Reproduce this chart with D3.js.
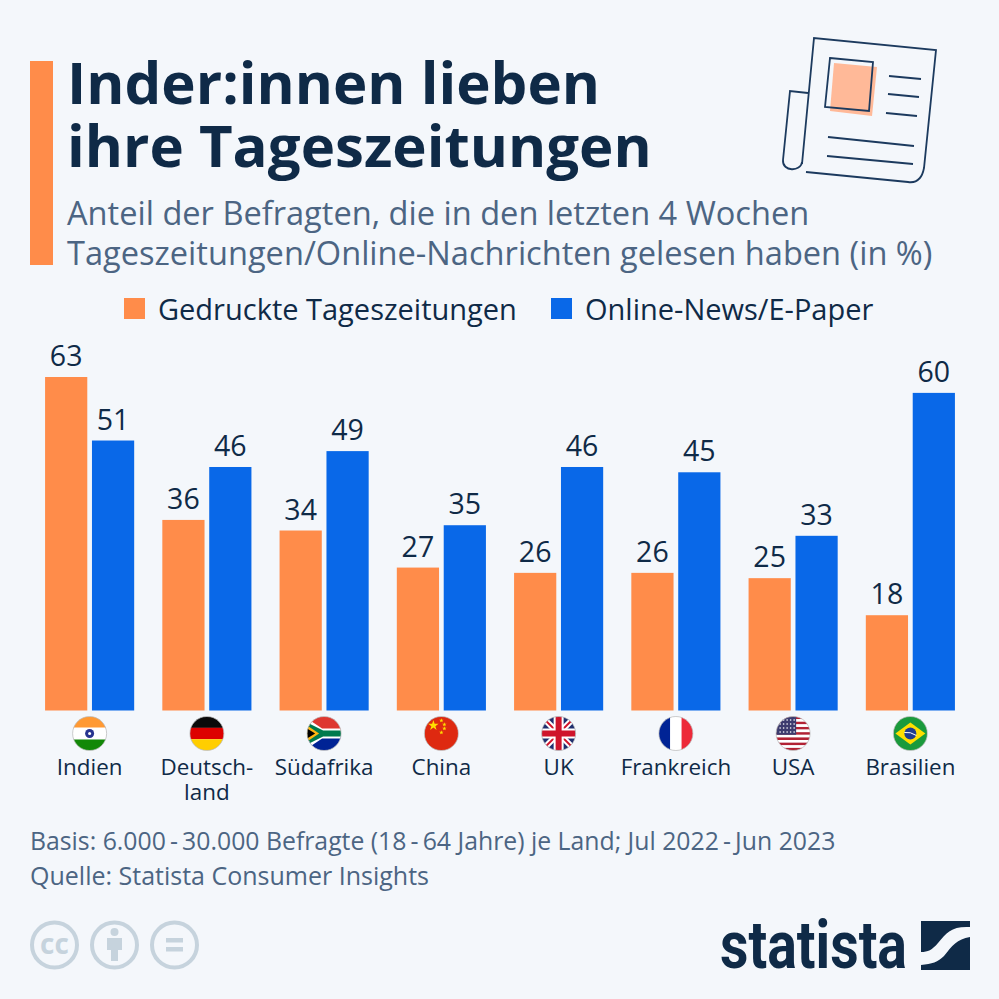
<!DOCTYPE html>
<html>
<head>
<meta charset="utf-8">
<script src="https://cdn.jsdelivr.net/npm/d3@7"></script>
<style>
  html, body { margin: 0; padding: 0; background: #f4f7fb; }
  svg { display: block; }
  text { font-family: "Open Sans", sans-serif; }
</style>
</head>
<body>
<svg id="chart" width="999" height="999"></svg>
<script>
const countries = ["Indien", "Deutschland", "Südafrika", "China", "UK", "Frankreich", "USA", "Brasilien"];
const countryLabels = [["Indien"], ["Deutsch-", "land"], ["Südafrika"], ["China"], ["UK"], ["Frankreich"], ["USA"], ["Brasilien"]];
const printValues = [63, 36, 34, 27, 26, 26, 25, 18];
const onlineValues = [51, 46, 49, 35, 46, 45, 33, 60];
const seriesNames = ["Gedruckte Tageszeitungen", "Online-News/E-Paper"];
const titleLines = ["Inder:innen lieben", "ihre Tageszeitungen"];
const subtitleLines = [
  "Anteil der Befragten, die in den letzten 4 Wochen",
  "Tageszeitungen/Online-Nachrichten gelesen haben (in %)"
];
const footerLines = [
  "Basis: 6.000\u2009-\u200930.000 Befragte (18\u2009-\u200964 Jahre) je Land; Jul 2022\u2009-\u2009Jun 2023",
  "Quelle: Statista Consumer Insights"
];

const navy = "#0f2a47";
const slate = "#4c6583";
const orange = "#ff8c4a";
const blue = "#0968e8";

const svg = d3.select("#chart");

svg.append("rect").attr("width", 999).attr("height", 999).attr("fill", "#f4f7fb");

// header
svg.append("rect").attr("x", 30).attr("y", 61).attr("width", 23).attr("height", 204).attr("fill", orange);

svg.selectAll(".title")
  .data(titleLines)
  .join("text")
  .attr("class", "title")
  .attr("x", 67)
  .attr("y", (d, i) => 104 + i * 63)
  .attr("font-size", "58.2px")
  .attr("font-weight", 700)
  .attr("fill", navy)
  .text((d) => d);

svg.selectAll(".subtitle")
  .data(subtitleLines)
  .join("text")
  .attr("class", "subtitle")
  .attr("x", 67)
  .attr("y", (d, i) => 225 + i * 40)
  .attr("font-size", "32.6px")
  .attr("fill", slate)
  .text((d) => d);

// newspaper icon
const icon = svg.append("g").attr("fill", "none").attr("stroke", "#1c3a5e").attr("stroke-width", 1.8);
icon.append("path")
  .attr("d", "M834,63 L877,67 L872,116 L830,111 Z")
  .attr("fill", "#ffb998")
  .attr("stroke", "none");
icon.append("path").attr("d", "M830,58 L873,62 L869,111 L825,107 Z");
icon.append("path").attr("d", "M802,164 L814,38 L936,50 L924,168 Q921,184 908,182 L806,172");
icon.append("path").attr("d", "M808,93 L790,91 L783,160 C782,172 801,172 802,162");
[[889, 76, 921, 79], [888, 94, 919, 97], [886, 113, 917, 116], [828, 137, 914, 146], [827, 156, 913, 164]].forEach((l) => {
  icon.append("line").attr("x1", l[0]).attr("y1", l[1]).attr("x2", l[2]).attr("y2", l[3]);
});

// legend
const legendX = [124, 551];
seriesNames.forEach((name, i) => {
  svg.append("rect")
    .attr("x", legendX[i])
    .attr("y", 298)
    .attr("width", 21)
    .attr("height", 21)
    .attr("fill", i === 0 ? orange : blue);
  svg.append("text")
    .attr("x", legendX[i] + 34)
    .attr("y", 320)
    .attr("font-size", "29px")
    .attr("fill", navy)
    .text(name);
});

// scales
const x0 = d3.scaleBand().domain(countries).range([31, 969]).paddingInner(0.24).paddingOuter(0.12);
const x1 = d3.scaleBand().domain(seriesNames).range([0, x0.bandwidth()]).paddingInner(0.1);
const y = d3.scaleLinear().domain([0, 63]).range([710.5, 377]);

const rows = countries.map((c, i) => ({ country: c, values: [printValues[i], onlineValues[i]], label: countryLabels[i] }));

const groups = svg.selectAll(".group")
  .data(rows)
  .join("g")
  .attr("class", "group")
  .attr("transform", (d) => `translate(${x0(d.country)},0)`);

const cells = groups.selectAll(".cell")
  .data((d) => d.values.map((v, i) => ({ value: v, series: seriesNames[i] })))
  .join("g")
  .attr("class", "cell");

cells.append("rect")
  .attr("x", (d) => x1(d.series))
  .attr("y", (d) => y(d.value))
  .attr("width", x1.bandwidth())
  .attr("height", (d) => y(0) - y(d.value))
  .attr("fill", (d) => (d.series === seriesNames[0] ? orange : blue));

cells.append("text")
  .attr("x", (d) => x1(d.series) + x1.bandwidth() / 2)
  .attr("y", (d) => y(d.value) - 11)
  .attr("text-anchor", "middle")
  .attr("font-size", "28.5px")
  .attr("fill", navy)
  .text((d) => d.value);

// country labels
groups.each(function (d) {
  d3.select(this).selectAll(".country")
    .data(d.label)
    .join("text")
    .attr("class", "country")
    .attr("x", x0.bandwidth() / 2)
    .attr("y", (t, i) => 775 + i * 25)
    .attr("text-anchor", "middle")
    .attr("font-size", "22.4px")
    .attr("fill", navy)
    .text((t) => t);
});

// flags
const defs = svg.append("defs");
defs.append("clipPath").attr("id", "flagClip").append("circle").attr("r", 17);

const flagDrawers = {
  Indien(g) {
    band(g, -17, 12, "#ff9933");
    band(g, -6, 12, "#ffffff");
    band(g, 6, 11, "#128807");
    g.append("circle").attr("r", 4.5).attr("fill", "#27348f");
    g.append("circle").attr("r", 1.5).attr("fill", "#ffffff");
  },
  Deutschland(g) {
    band(g, -17, 11.4, "#0a0a0a");
    band(g, -5.7, 11.4, "#dd0000");
    band(g, 5.7, 11.4, "#ffce00");
  },
  "Südafrika"(g) {
    band(g, -17, 17, "#de3831");
    band(g, 0, 17, "#002395");
    g.append("path").attr("d", "M-17,-15 L-2,-5 L17,-5 L17,5 L-2,5 L-17,15 Z").attr("fill", "#ffffff");
    g.append("path").attr("d", "M-17,-11 L-1,-3 L17,-3 L17,3 L-1,3 L-17,11 Z").attr("fill", "#007a4d");
    g.append("path").attr("d", "M-17,-8 L-5,0 L-17,8 Z").attr("fill", "#ffb612");
    g.append("path").attr("d", "M-17,-5 L-9,0 L-17,5 Z").attr("fill", "#000000");
  },
  China(g) {
    band(g, -17, 34, "#de2910");
    const star = d3.symbol().type(d3.symbolStar);
    g.append("path").attr("d", star.size(34)()).attr("transform", "translate(-8,-8)").attr("fill", "#ffde00");
    [[0, -13], [3, -9], [3, -5], [0, -1]].forEach((p) => {
      g.append("path").attr("d", star.size(6)()).attr("transform", `translate(${p[0]},${p[1]})`).attr("fill", "#ffde00");
    });
  },
  UK(g) {
    band(g, -17, 34, "#1f2f6e");
    g.append("path").attr("d", "M-17,-17 L17,17 M17,-17 L-17,17").attr("stroke", "#ffffff").attr("stroke-width", 6);
    g.append("path").attr("d", "M-17,-17 L17,17 M17,-17 L-17,17").attr("stroke", "#cf142b").attr("stroke-width", 2);
    g.append("path").attr("d", "M0,-17 V17 M-17,0 H17").attr("stroke", "#ffffff").attr("stroke-width", 10);
    g.append("path").attr("d", "M0,-17 V17 M-17,0 H17").attr("stroke", "#cf142b").attr("stroke-width", 6);
  },
  Frankreich(g) {
    g.append("rect").attr("x", -17).attr("y", -17).attr("width", 11.4).attr("height", 34).attr("fill", "#002395");
    g.append("rect").attr("x", -5.7).attr("y", -17).attr("width", 11.4).attr("height", 34).attr("fill", "#ffffff");
    g.append("rect").attr("x", 5.7).attr("y", -17).attr("width", 11.4).attr("height", 34).attr("fill", "#ed2939");
  },
  USA(g) {
    d3.range(13).forEach((i) => band(g, -17 + (i * 34) / 13, 34 / 13, i % 2 ? "#ffffff" : "#b22234"));
    g.append("rect").attr("x", -17).attr("y", -17).attr("width", 20).attr("height", 18.3).attr("fill", "#3c3b6e");
    d3.range(4).forEach((r) => d3.range(5).forEach((c) => {
      g.append("circle").attr("cx", -13 + c * 3.5).attr("cy", -13.5 + r * 4).attr("r", 0.8).attr("fill", "#ffffff");
    }));
  },
  Brasilien(g) {
    band(g, -17, 34, "#1a9a3c");
    g.append("path").attr("d", "M-15,0 L0,-11 L15,0 L0,11 Z").attr("fill", "#ffdf00");
    g.append("circle").attr("r", 6).attr("fill", "#1f3c8f");
    g.append("path").attr("d", "M-6,-1 Q0,-2 6,2").attr("fill", "none").attr("stroke", "#ffffff").attr("stroke-width", 1);
  }
};

function band(g, top, h, color) {
  g.append("rect").attr("x", -17).attr("y", top).attr("width", 34).attr("height", h).attr("fill", color);
}

groups.each(function (d) {
  const flag = d3.select(this).append("g")
    .attr("transform", `translate(${x0.bandwidth() / 2},733.5)`);
  const inner = flag.append("g").attr("clip-path", "url(#flagClip)");
  flagDrawers[d.country](inner);
  flag.append("circle").attr("r", 17).attr("fill", "none").attr("stroke", "#b8b8b8").attr("stroke-width", 0.7);
});

// footer
svg.selectAll(".footer")
  .data(footerLines)
  .join("text")
  .attr("class", "footer")
  .attr("x", 30)
  .attr("y", (d, i) => 850 + i * 35)
  .attr("font-size", (d, i) => (i === 0 ? "24.8px" : "25px"))
  .attr("fill", slate)
  .text((d) => d);

// licence icons
const ccColor = "#c6d3dd";
const cc = svg.append("g").attr("fill", "none").attr("stroke", ccColor);
[54.5, 114.5, 174.5].forEach((cx) => {
  cc.append("circle").attr("cx", cx).attr("cy", 945).attr("r", 22.5).attr("stroke-width", 4);
});
svg.append("text")
  .attr("x", 54.5)
  .attr("y", 954)
  .attr("text-anchor", "middle")
  .attr("font-size", "28px")
  .attr("font-weight", 700)
  .attr("fill", ccColor)
  .text("cc");
svg.append("circle").attr("cx", 114.5).attr("cy", 932).attr("r", 4).attr("fill", ccColor);
svg.append("path")
  .attr("d", "M107,938 H122 V950 H118 V961 H111 V950 H107 Z")
  .attr("fill", ccColor);
svg.append("rect").attr("x", 166).attr("y", 938).attr("width", 17).attr("height", 4.5).attr("fill", ccColor);
svg.append("rect").attr("x", 166).attr("y", 947).attr("width", 17).attr("height", 4.5).attr("fill", ccColor);

// statista logo
svg.append("text")
  .attr("x", 720)
  .attr("y", 968)
  .style("font-family", "'Liberation Sans Narrow', Roboto, sans-serif")
  .attr("font-size", "66px")
  .attr("font-weight", 700)
  .attr("textLength", 187)
  .attr("lengthAdjust", "spacingAndGlyphs")
  .attr("fill", navy)
  .text("statista");
svg.append("path")
  .attr("d", "M921,921 H970 V927 C952,926 947,932 938,943 C932,950 928,952 921,952 Z")
  .attr("fill", navy);
svg.append("path")
  .attr("d", "M970,937 V970 H921 V965 C932,964 938,962 944,956 C952,946 957,939 970,937 Z")
  .attr("fill", navy);
</script>
</body>
</html>
